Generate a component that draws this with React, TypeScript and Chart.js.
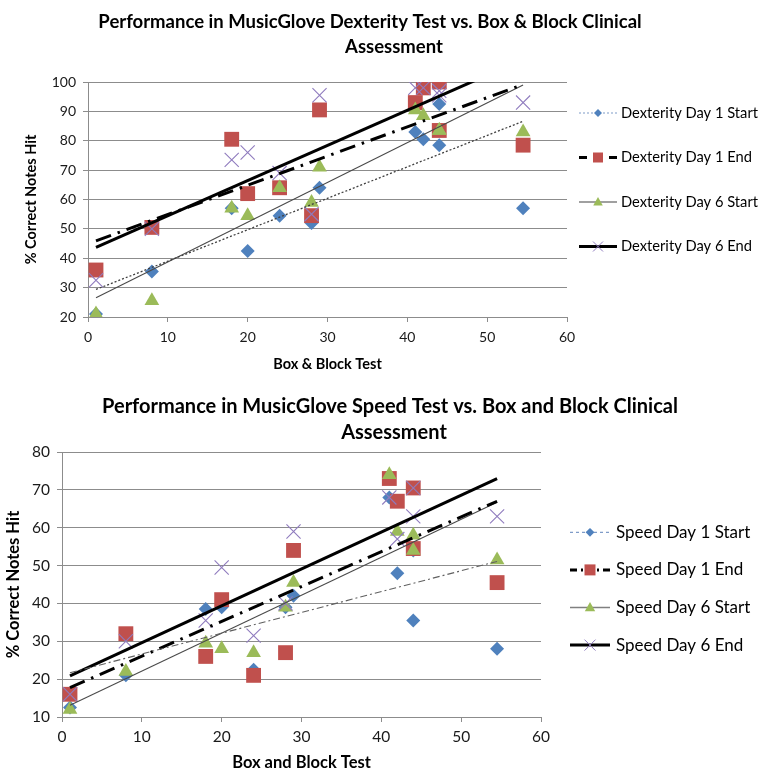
import React, { useEffect, useRef } from "react";
import { Chart, registerables } from "chart.js";

Chart.register(...registerables);

// ---------- data ----------
const boxBlock = [1, 8, 18, 20, 24, 28, 29, 41, 42, 44, 44, 54.5];

const dexDay1Start = [21, 35.5, 57, 42.5, 54.5, 52, 64, 83, 80.5, 92.5, 78.5, 57];
const dexDay1End = [36, 50.5, 80.5, 62, 64, 54.5, 90.5, 93, 98, 100, 83.5, 78.5];
const dexDay6Start = [21, 25.5, 57, 54.5, 64, 59, 71, 90.5, 88.5, 83.5, 83.5, 83];
const dexDay6End = [32.5, 50, 73.5, 76, 69, 55, 95.5, 98, 98, 95.5, 97, 93];

const spdDay1Start = [12.5, 21, 38.5, 39, 22.5, 39, 42, 68, 48, 35.5, 54, 28];
const spdDay1End = [16, 32, 26, 41, 21, 27, 54, 73, 67, 70.5, 54.5, 45.5];
const spdDay6Start = [12, 22, 29.5, 28, 27, 39, 45.5, 74, 59, 58, 54, 51.5];
const spdDay6End = [16, 30, 35.5, 49.5, 31.5, 40, 59, 68, 57, 70.5, 63, 63];

const dexLabels = ["Dexterity Day 1 Start", "Dexterity Day 1 End", "Dexterity Day 6 Start", "Dexterity Day 6 End"];
const spdLabels = ["Speed Day 1 Start", "Speed Day 1 End", "Speed Day 6 Start", "Speed Day 6 End"];

const dexTitle = ["Performance in MusicGlove Dexterity Test vs. Box & Block Clinical", "Assessment"];
const spdTitle = ["Performance in MusicGlove Speed Test vs. Box and Block Clinical", "Assessment"];

const xTicksRange = [0, 60];
const dexYRange = [20, 100];
const spdYRange = [10, 80];

// ---------- styles ----------
const FONT = "Lato, 'Open Sans', sans-serif";
const BLUE = "#4F81BD";
const RED = "#C0504D";
const GREEN = "#9BBB59";
const PURPLE = "#8F7BBE";
const GRID = "#8C8C8C";

type SeriesStyle = {
  kind: "diamond" | "square" | "triangle" | "x";
  color: string;
  radius: number;
  trendColor: string;
  trendWidth: number;
  trendDash: number[];
  legendColor: string;
  legendWidth: number;
  legendDash: number[];
};

const dexStyles: SeriesStyle[] = [
  { kind: "diamond", color: BLUE, radius: 7, trendColor: "#404040", trendWidth: 1.3, trendDash: [2, 2], legendColor: "#7F9CC8", legendWidth: 1.2, legendDash: [2, 2] },
  { kind: "square", color: RED, radius: 10.5, trendColor: "#000", trendWidth: 3, trendDash: [16, 7, 2.5, 7], legendColor: "#000", legendWidth: 3, legendDash: [8, 22] },
  { kind: "triangle", color: GREEN, radius: 8.5, trendColor: "#4a4a4a", trendWidth: 1.1, trendDash: [], legendColor: "#808080", legendWidth: 1.5, legendDash: [] },
  { kind: "x", color: PURPLE, radius: 10, trendColor: "#000", trendWidth: 3, trendDash: [], legendColor: "#000", legendWidth: 3, legendDash: [] },
];

const spdStyles: SeriesStyle[] = [
  { kind: "diamond", color: BLUE, radius: 7, trendColor: "#606060", trendWidth: 1.1, trendDash: [7, 3, 2, 3], legendColor: "#7F9CC8", legendWidth: 1.2, legendDash: [3, 3] },
  { kind: "square", color: RED, radius: 10.5, trendColor: "#000", trendWidth: 3, trendDash: [16, 7, 2.5, 7], legendColor: "#000", legendWidth: 3, legendDash: [7, 4] },
  { kind: "triangle", color: GREEN, radius: 8.5, trendColor: "#4a4a4a", trendWidth: 1.1, trendDash: [], legendColor: "#808080", legendWidth: 1.5, legendDash: [] },
  { kind: "x", color: PURPLE, radius: 10, trendColor: "#000", trendWidth: 3, trendDash: [], legendColor: "#000", legendWidth: 3, legendDash: [] },
];

// ---------- helpers ----------
function linearTrend(xs: number[], ys: number[]) {
  const n = xs.length;
  const mx = xs.reduce((a, b) => a + b, 0) / n;
  const my = ys.reduce((a, b) => a + b, 0) / n;
  let sxy = 0;
  let sxx = 0;
  for (let i = 0; i < n; i++) {
    sxy += (xs[i] - mx) * (ys[i] - my);
    sxx += (xs[i] - mx) * (xs[i] - mx);
  }
  const b = sxy / sxx;
  const a = my - b * mx;
  const x0 = Math.min(...xs);
  const x1 = Math.max(...xs);
  return [
    { x: x0, y: a + b * x0 },
    { x: x1, y: a + b * x1 },
  ];
}

const pointStyleOf = (k: SeriesStyle["kind"]) =>
  k === "diamond" ? "rectRot" : k === "square" ? "rect" : k === "triangle" ? "triangle" : "crossRot";

function drawMarker(ctx: CanvasRenderingContext2D, kind: string, x: number, y: number, s: number, color: string) {
  ctx.save();
  ctx.fillStyle = color;
  ctx.strokeStyle = color;
  ctx.setLineDash([]);
  ctx.beginPath();
  if (kind === "diamond") {
    ctx.moveTo(x, y - s);
    ctx.lineTo(x + s, y);
    ctx.lineTo(x, y + s);
    ctx.lineTo(x - s, y);
    ctx.closePath();
    ctx.fill();
  } else if (kind === "square") {
    ctx.rect(x - s, y - s, 2 * s, 2 * s);
    ctx.fill();
  } else if (kind === "triangle") {
    ctx.moveTo(x, y - s);
    ctx.lineTo(x + s * 0.95, y + s * 0.7);
    ctx.lineTo(x - s * 0.95, y + s * 0.7);
    ctx.closePath();
    ctx.fill();
  } else {
    ctx.lineWidth = 1;
    ctx.moveTo(x - s, y - s);
    ctx.lineTo(x + s, y + s);
    ctx.moveTo(x + s, y - s);
    ctx.lineTo(x - s, y + s);
    ctx.stroke();
  }
  ctx.restore();
}

type PanelSpec = {
  title: string[];
  titleSize: number;
  titleCenters: number[];
  titleYs: number[];
  xTitle: string;
  axisTitleSize: number;
  tickSize: number;
  yRange: number[];
  series: number[][];
  labels: string[];
  styles: SeriesStyle[];
  pad: { left: number; right: number; top: number; bottom: number };
  yWidth: number;
  xHeight: number;
  xTitlePadBottom: number;
  legend: { lineX0: number; lineX1: number; textX: number; rowY0: number; rowStep: number; fontSize: number; markerScale: number };
  tickPad: number;
};

function buildConfig(spec: PanelSpec): any {
  const trendSets = spec.series.map((ys, i) => ({
    label: spec.labels[i] + " trend",
    data: linearTrend(boxBlock, ys),
    showLine: true,
    borderColor: spec.styles[i].trendColor,
    borderWidth: spec.styles[i].trendWidth,
    borderDash: spec.styles[i].trendDash,
    pointRadius: 0,
    fill: false,
    order: 0,
  }));
  const pointSets = spec.series.map((ys, i) => {
    const st = spec.styles[i];
    return {
      label: spec.labels[i],
      data: boxBlock.map((x, j) => ({ x, y: ys[j] })),
      showLine: false,
      pointStyle: pointStyleOf(st.kind),
      pointRadius: st.radius,
      pointHoverRadius: st.radius,
      backgroundColor: st.color,
      borderColor: st.color,
      borderWidth: st.kind === "x" ? 1.1 : 0,
      order: 4 - i,
    };
  });

  const deco = {
    id: "deco",
    afterDraw(chart: any) {
      const ctx: CanvasRenderingContext2D = chart.ctx;
      ctx.save();
      ctx.fillStyle = "#000";
      ctx.font = `bold ${spec.titleSize}px ${FONT}`;
      ctx.textAlign = "center";
      ctx.textBaseline = "middle";
      spec.title.forEach((t, i) => ctx.fillText(t, spec.titleCenters[i], spec.titleYs[i]));
      const lg = spec.legend;
      spec.labels.forEach((lab, i) => {
        const st = spec.styles[i];
        const y = lg.rowY0 + i * lg.rowStep;
        ctx.save();
        ctx.strokeStyle = st.legendColor;
        ctx.lineWidth = st.legendWidth;
        ctx.setLineDash(st.legendDash);
        ctx.beginPath();
        ctx.moveTo(lg.lineX0, y);
        ctx.lineTo(lg.lineX1, y);
        ctx.stroke();
        ctx.restore();
        const mx = (lg.lineX0 + lg.lineX1) / 2;
        const s = st.kind === "diamond" ? 4 : 5;
        if (st.kind === "square") {
          ctx.save();
          ctx.fillStyle = "#fff";
          ctx.fillRect(mx - 7, y - 3, 14, 6);
          ctx.restore();
        }
        drawMarker(ctx, st.kind, mx, y, s * lg.markerScale, st.color);
        ctx.fillStyle = "#000";
        ctx.font = `${lg.fontSize}px ${FONT}`;
        ctx.textAlign = "left";
        ctx.textBaseline = "middle";
        ctx.fillText(lab, lg.textX, y);
      });
      ctx.restore();
    },
  };

  return {
    type: "scatter",
    data: { datasets: [...trendSets, ...pointSets] },
    plugins: [deco],
    options: {
      responsive: false,
      animation: false,
      events: [],
      layout: { padding: spec.pad },
      plugins: {
        legend: { display: false },
        tooltip: { enabled: false },
        title: { display: false },
      },
      scales: {
        x: {
          type: "linear",
          min: xTicksRange[0],
          max: xTicksRange[1],
          ticks: { stepSize: 10, padding: spec.tickPad, color: "#1a1a1a", font: { family: FONT, size: spec.tickSize } },
          grid: { display: true, drawOnChartArea: false, drawTicks: true, tickLength: 5, color: GRID },
          border: { display: true, color: GRID, width: 1 },
          title: {
            display: true,
            text: spec.xTitle,
            color: "#000",
            font: { family: FONT, size: spec.axisTitleSize, weight: "bold" },
            padding: { top: 4, bottom: spec.xTitlePadBottom },
          },
          afterFit: (s: any) => {
            s.height = spec.xHeight;
          },
        },
        y: {
          type: "linear",
          min: spec.yRange[0],
          max: spec.yRange[1],
          ticks: { stepSize: 10, padding: 7, color: "#1a1a1a", font: { family: FONT, size: spec.tickSize } },
          grid: { display: true, drawTicks: true, tickLength: 5, color: GRID },
          border: { display: true, color: GRID, width: 1 },
          title: {
            display: true,
            text: "% Correct Notes Hit",
            color: "#000",
            font: { family: FONT, size: spec.axisTitleSize, weight: "bold" },
            padding: { top: 4, bottom: 4 },
          },
          afterFit: (s: any) => {
            s.width = spec.yWidth;
          },
        },
      },
    },
  };
}

const topSpec: PanelSpec = {
  title: dexTitle,
  titleSize: 18.5,
  titleCenters: [370, 394],
  titleYs: [22, 47],
  xTitle: "Box & Block Test",
  axisTitleSize: 14.5,
  tickSize: 14,
  yRange: dexYRange,
  series: [dexDay1Start, dexDay1End, dexDay6Start, dexDay6End],
  labels: dexLabels,
  styles: dexStyles,
  pad: { left: 19, right: 200, top: 82, bottom: 8 },
  yWidth: 69,
  xHeight: 60,
  xTitlePadBottom: 4,
  legend: { lineX0: 579, lineX1: 617, textX: 621, rowY0: 113, rowStep: 44.5, fontSize: 14.7, markerScale: 1 },
  tickPad: 7,
};

const botSpec: PanelSpec = {
  title: spdTitle,
  titleSize: 20,
  titleCenters: [390, 394],
  titleYs: [27, 53],
  xTitle: "Box and Block Test",
  axisTitleSize: 16.5,
  tickSize: 15.5,
  yRange: spdYRange,
  series: [spdDay1Start, spdDay1End, spdDay6Start, spdDay6End],
  labels: spdLabels,
  styles: spdStyles,
  pad: { left: 0, right: 226, top: 72, bottom: 0 },
  yWidth: 62,
  xHeight: 53,
  xTitlePadBottom: -3,
  legend: { lineX0: 570, lineX1: 610, textX: 616, rowY0: 152.3, rowStep: 37.6, fontSize: 17, markerScale: 1.1 },
  tickPad: 6,
};

export default function App() {
  const topRef = useRef<HTMLCanvasElement>(null);
  const botRef = useRef<HTMLCanvasElement>(null);

  useEffect(() => {
    const c1 = new Chart(topRef.current as HTMLCanvasElement, buildConfig(topSpec));
    const c2 = new Chart(botRef.current as HTMLCanvasElement, buildConfig(botSpec));
    return () => {
      c1.destroy();
      c2.destroy();
    };
  }, []);

  return (
    <div style={{ position: "absolute", left: 0, top: 0, width: 767, height: 770, background: "#fff", overflow: "hidden" }}>
      <canvas ref={topRef} width={767} height={385} style={{ position: "absolute", left: 0, top: 0, width: 767, height: 385 }} />
      <canvas ref={botRef} width={767} height={390} style={{ position: "absolute", left: 0, top: 380, width: 767, height: 390 }} />
    </div>
  );
}
